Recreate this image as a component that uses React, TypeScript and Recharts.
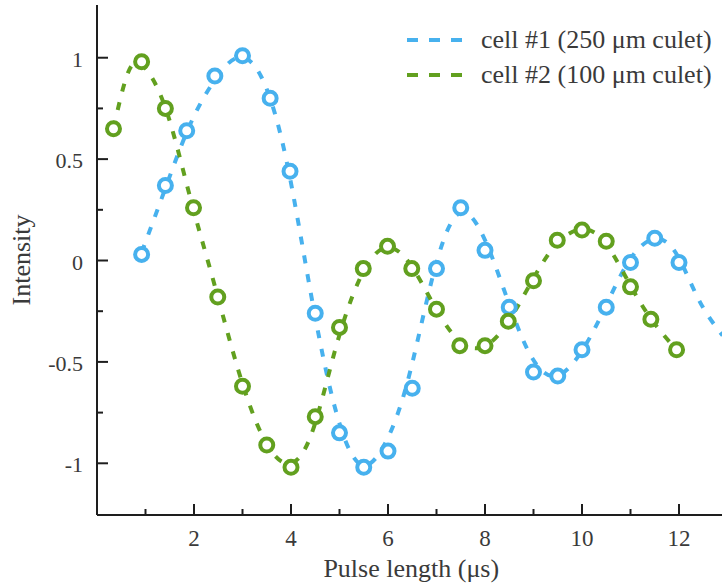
import { ComposedChart, Line, Scatter, XAxis, YAxis, Legend, Label } from 'recharts';

// Colours and type
const BLUE = '#47b1ee';
const GREEN = '#62a01f';
const AXIS_COLOR = '#1e1e1e';
const TEXT_COLOR = '#3a3a3a';
const FONT = '"Liberation Serif", "Times New Roman", serif';

// Measured points — cell #1 (250 µm culet)
const cell1Pulse = [0.92, 1.41, 1.85, 2.43, 3.0, 3.57, 3.98, 4.5, 5.0, 5.5, 6.0, 6.5, 7.0, 7.5, 8.0, 8.5, 9.0, 9.5, 10.0, 10.5, 11.0, 11.5, 12.0];
const cell1Intensity = [0.03, 0.37, 0.64, 0.91, 1.01, 0.8, 0.44, -0.26, -0.85, -1.02, -0.94, -0.63, -0.04, 0.26, 0.05, -0.23, -0.55, -0.57, -0.44, -0.23, -0.01, 0.11, -0.01];

// Measured points — cell #2 (100 µm culet)
const cell2Pulse = [0.34, 0.92, 1.41, 1.99, 2.49, 3.0, 3.5, 4.0, 4.5, 5.0, 5.49, 5.99, 6.49, 7.0, 7.48, 8.0, 8.48, 9.0, 9.49, 10.0, 10.5, 11.0, 11.42, 11.95];
const cell2Intensity = [0.65, 0.98, 0.75, 0.26, -0.18, -0.62, -0.91, -1.02, -0.77, -0.33, -0.04, 0.07, -0.04, -0.24, -0.42, -0.42, -0.3, -0.1, 0.1, 0.15, 0.095, -0.13, -0.29, -0.44];

// Dashed fit curves
const fit1Pulse = [0.92, 1.4, 1.9, 2.4, 2.9, 3.4, 3.9, 4.4, 4.9, 5.4, 5.9, 6.4, 6.9, 7.4, 7.9, 8.4, 8.9, 9.4, 9.9, 10.4, 10.9, 11.4, 11.9, 12.4, 12.9];
const fit1Intensity = [0.04, 0.35, 0.66, 0.88, 1.0, 0.9, 0.5, -0.15, -0.72, -1.0, -0.92, -0.6, -0.1, 0.22, 0.15, -0.15, -0.45, -0.57, -0.48, -0.27, -0.03, 0.1, 0.05, -0.19, -0.37];

const fit2Pulse = [0.34, 0.6, 0.9, 1.4, 1.9, 2.4, 2.9, 3.4, 3.9, 4.4, 4.9, 5.4, 5.9, 6.4, 6.9, 7.4, 7.9, 8.4, 8.9, 9.4, 9.9, 10.4, 10.9, 11.4, 11.95];
const fit2Intensity = [0.65, 0.9, 0.97, 0.76, 0.33, -0.1, -0.53, -0.86, -1.0, -0.87, -0.45, -0.1, 0.06, 0.0, -0.2, -0.38, -0.43, -0.33, -0.13, 0.06, 0.15, 0.11, -0.08, -0.28, -0.44];

// Axes
const X_TICKS = [1, 2, 3, 4, 5, 6, 7, 8, 9, 10, 11, 12];
const X_LABELED = [2, 4, 6, 8, 10, 12];
const Y_TICKS = [-1, -0.75, -0.5, -0.25, 0, 0.25, 0.5, 0.75, 1];
const Y_LABELED = [-1, -0.5, 0, 0.5, 1];

const SERIES = [
  { name: 'cell #1 (250 μm culet)', color: BLUE },
  { name: 'cell #2 (100 μm culet)', color: GREEN },
];

const toPoints = (xs: number[], ys: number[]) => xs.map((x, i) => ({ x, y: ys[i] }));

const MAJOR_LEN = 11;
const MINOR_LEN = 6;

function BottomTick({ x, y, payload }: any) {
  const major = X_LABELED.includes(payload.value);
  return (
    <g>
      <line x1={x} x2={x} y1={y} y2={y - (major ? MAJOR_LEN : MINOR_LEN)} stroke={AXIS_COLOR} strokeWidth={2} />
      {major && (
        <text x={x} y={y + 31} textAnchor="middle" fontSize={23} fontFamily={FONT} fill={TEXT_COLOR}>
          {payload.value}
        </text>
      )}
    </g>
  );
}

function TopTick({ x, y, payload }: any) {
  const major = X_LABELED.includes(payload.value);
  return <line x1={x} x2={x} y1={y} y2={y + (major ? MAJOR_LEN : MINOR_LEN)} stroke={AXIS_COLOR} strokeWidth={2} />;
}

function LeftTick({ x, y, payload }: any) {
  const major = Y_LABELED.includes(payload.value);
  return (
    <g>
      <line x1={x} x2={x + (major ? MAJOR_LEN : MINOR_LEN)} y1={y} y2={y} stroke={AXIS_COLOR} strokeWidth={2} />
      {major && (
        <text x={x - 14} y={y + 9} textAnchor="end" fontSize={22} fontFamily={FONT} fill={TEXT_COLOR}>
          {payload.value}
        </text>
      )}
    </g>
  );
}

function RightTick({ x, y, payload }: any) {
  const major = Y_LABELED.includes(payload.value);
  return <line x1={x} x2={x - (major ? MAJOR_LEN : MINOR_LEN)} y1={y} y2={y} stroke={AXIS_COLOR} strokeWidth={2} />;
}

function Ring({ cx, cy, color }: any) {
  return <circle cx={cx} cy={cy} r={6.5} fill="#fff" stroke={color} strokeWidth={4} />;
}

function LegendBox() {
  return (
    <div style={{ fontFamily: FONT, fontSize: 26, color: TEXT_COLOR }}>
      {SERIES.map((s) => (
        <div key={s.name} style={{ display: 'flex', alignItems: 'center', height: 35, whiteSpace: 'nowrap' }}>
          <svg width={58} height={10} style={{ marginRight: 18 }}>
            <line x1={2} x2={57} y1={5} y2={5} stroke={s.color} strokeWidth={4} strokeDasharray="11 11" />
          </svg>
          <span>{s.name}</span>
        </div>
      ))}
    </div>
  );
}

export default function App() {
  return (
    <div style={{ position: 'fixed', left: 0, top: 0, width: 722, height: 587, overflow: 'hidden', background: '#fff' }}>
      <ComposedChart
        width={760}
        height={587}
        margin={{ top: 5, right: 32.5, bottom: 0, left: 0 }}
      >
        <XAxis
          xAxisId="main"
          dataKey="x"
          type="number"
          domain={[0, 13]}
          ticks={X_TICKS}
          interval={0}
          height={72}
          tickSize={0}
          tickMargin={0}
          tickLine={false}
          axisLine={{ stroke: AXIS_COLOR, strokeWidth: 2 }}
          tick={<BottomTick />}
        >
          <Label
            content={({ viewBox }: any) => (
              <text
                x={viewBox.x + viewBox.width / 2 - 1}
                y={viewBox.y + 62}
                textAnchor="middle"
                fontSize={26}
                fontFamily={FONT}
                fill={TEXT_COLOR}
              >
                Pulse length (μs)
              </text>
            )}
          />
        </XAxis>
        <XAxis
          xAxisId="top"
          orientation="top"
          dataKey="x"
          type="number"
          domain={[0, 13]}
          ticks={X_TICKS}
          interval={0}
          height={0}
          tickSize={0}
          tickMargin={0}
          tickLine={false}
          axisLine={{ stroke: AXIS_COLOR, strokeWidth: 2 }}
          tick={<TopTick />}
        />
        <YAxis
          yAxisId="main"
          type="number"
          domain={[-1.255, 1.26]}
          ticks={Y_TICKS}
          interval={0}
          width={97}
          tickSize={0}
          tickMargin={0}
          tickLine={false}
          axisLine={{ stroke: AXIS_COLOR, strokeWidth: 2 }}
          tick={<LeftTick />}
        >
          <Label
            content={({ viewBox }: any) => (
              <text
                x={30}
                y={viewBox.y + viewBox.height / 2}
                transform={`rotate(-90 30 ${viewBox.y + viewBox.height / 2})`}
                textAnchor="middle"
                fontSize={26}
                fontFamily={FONT}
                fill={TEXT_COLOR}
              >
                Intensity
              </text>
            )}
          />
        </YAxis>
        <YAxis
          yAxisId="right"
          orientation="right"
          type="number"
          domain={[-1.255, 1.26]}
          ticks={Y_TICKS}
          interval={0}
          width={0}
          tickSize={0}
          tickMargin={0}
          tickLine={false}
          axisLine={{ stroke: AXIS_COLOR, strokeWidth: 2 }}
          tick={<RightTick />}
        />

        <Line
          xAxisId="main"
          yAxisId="main"
          data={toPoints(fit1Pulse, fit1Intensity)}
          dataKey="y"
          type="natural"
          stroke={BLUE}
          strokeWidth={4}
          strokeDasharray="8 11"
          dot={false}
          activeDot={false}
          legendType="none"
          isAnimationActive={false}
        />
        <Line
          xAxisId="main"
          yAxisId="main"
          data={toPoints(fit2Pulse, fit2Intensity)}
          dataKey="y"
          type="natural"
          stroke={GREEN}
          strokeWidth={4}
          strokeDasharray="8 11"
          dot={false}
          activeDot={false}
          legendType="none"
          isAnimationActive={false}
        />
        <Scatter
          xAxisId="main"
          yAxisId="main"
          data={toPoints(cell1Pulse, cell1Intensity)}
          dataKey="y"
          name={SERIES[0].name}
          shape={(p: any) => <Ring cx={p.cx} cy={p.cy} color={BLUE} />}
          isAnimationActive={false}
        />
        <Scatter
          xAxisId="main"
          yAxisId="main"
          data={toPoints(cell2Pulse, cell2Intensity)}
          dataKey="y"
          name={SERIES[1].name}
          shape={(p: any) => <Ring cx={p.cx} cy={p.cy} color={GREEN} />}
          isAnimationActive={false}
        />

        <Legend
          layout="vertical"
          align="center"
          verticalAlign="middle"
          wrapperStyle={{ left: 405, top: 22, width: 330 }}
          content={() => <LegendBox />}
        />
      </ComposedChart>
    </div>
  );
}
